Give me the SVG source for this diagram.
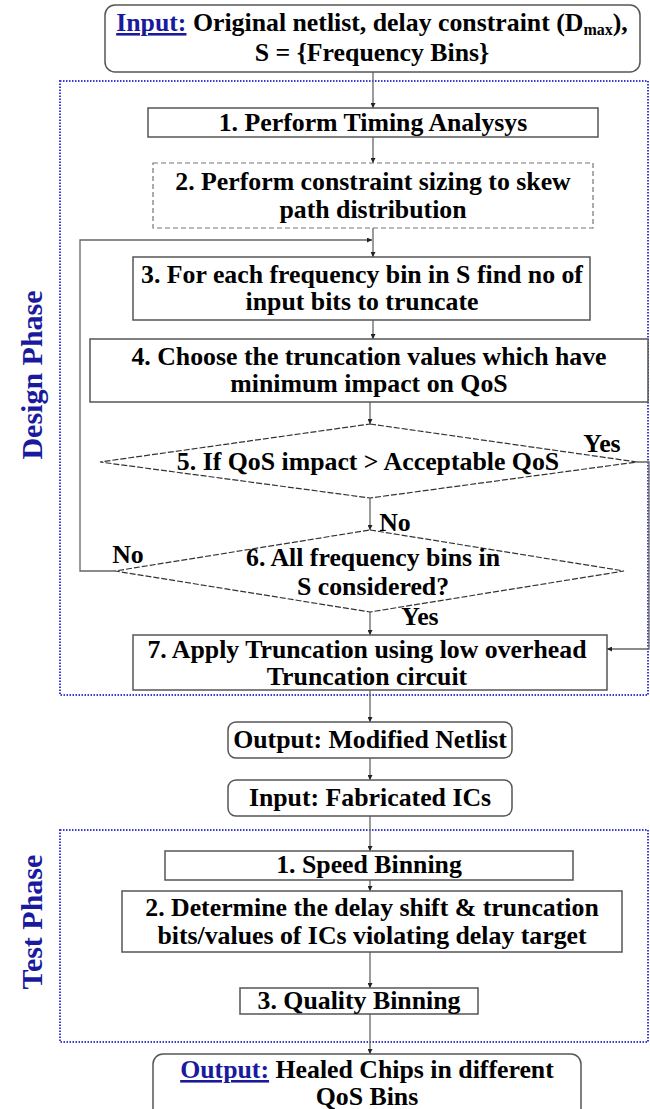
<svg xmlns="http://www.w3.org/2000/svg" width="650" height="1109" viewBox="0 0 650 1109">
<defs>
<style>
.t{font-weight:bold;font-size:25.8px;fill:#000;text-anchor:middle}
.blue{fill:#1a1a9e}
.u{text-decoration:underline}
.box{fill:#fff;stroke:#555;stroke-width:1.5}
.dbox{fill:#fff;stroke:#777;stroke-width:1.2;stroke-dasharray:5,3}
.dia{fill:#fff;stroke:#333;stroke-width:1.2;stroke-dasharray:6,2}
.phase{fill:none;stroke:#3b3bd6;stroke-width:2;stroke-dasharray:1.5,1.5}
.c{fill:none;stroke:#666;stroke-width:1.3}
.side{font-weight:bold;font-size:30px;fill:#1a1a9e;text-anchor:middle}
</style>
<marker id="ah" viewBox="0 0 10 10" refX="10" refY="5" markerWidth="5" markerHeight="5" orient="auto" markerUnits="userSpaceOnUse">
<path d="M0,0 L10,5 L0,10 z" fill="#222"/>
</marker>
</defs>
<rect width="650" height="1109" fill="#fff"/>
<g font-family="'Liberation Serif', 'Times New Roman', serif">

<g id="phases">
<rect class="phase" x="60" y="81" width="588" height="614"/>
<rect class="phase" x="60" y="830" width="588" height="212"/>
<text class="side" transform="translate(42,375) rotate(-90)">Design Phase</text>
<text class="side" transform="translate(42,922) rotate(-90)">Test Phase</text>
</g>

<g id="connectors">
<line class="c" x1="373" y1="72" x2="373" y2="108" marker-end="url(#ah)"/>
<line class="c" x1="373" y1="137" x2="373" y2="163" marker-end="url(#ah)"/>
<line class="c" x1="373" y1="228" x2="373" y2="257" marker-end="url(#ah)"/>
<polyline class="c" points="115,571 80,571 80,240 372,240" marker-end="url(#ah)"/>
<line class="c" x1="373" y1="320" x2="373" y2="339" marker-end="url(#ah)"/>
<line class="c" x1="370" y1="402" x2="370" y2="424" marker-end="url(#ah)"/>
<line class="c" x1="370" y1="498" x2="370" y2="530" marker-end="url(#ah)"/>
<polyline class="c" points="637,462 649,462 649,649 607,649" marker-end="url(#ah)"/>
<line class="c" x1="370" y1="612" x2="370" y2="635" marker-end="url(#ah)"/>
<line class="c" x1="370" y1="690" x2="370" y2="722" marker-end="url(#ah)"/>
<line class="c" x1="370" y1="758" x2="370" y2="780" marker-end="url(#ah)"/>
<line class="c" x1="370" y1="816" x2="370" y2="851" marker-end="url(#ah)"/>
<line class="c" x1="370" y1="880" x2="370" y2="891" marker-end="url(#ah)"/>
<line class="c" x1="370" y1="952" x2="370" y2="988" marker-end="url(#ah)"/>
<line class="c" x1="370" y1="1014" x2="370" y2="1054" marker-end="url(#ah)"/>
</g>

<g id="input">
<rect class="box" x="105" y="5" width="535" height="67" rx="10"/>
<text class="t" x="372" y="31"><tspan class="blue u">Input:</tspan> Original netlist, delay constraint (D<tspan font-size="16" dy="4">max</tspan><tspan dy="-4">),</tspan></text>
<text class="t" x="372" y="61">S = {Frequency Bins}</text>
</g>

<g id="d1">
<rect class="box" x="148" y="108" width="450" height="29"/>
<text class="t" x="373" y="131">1. Perform Timing Analysys</text>
</g>

<g id="d2">
<rect class="dbox" x="153" y="163" width="440" height="65"/>
<text class="t" x="373" y="190">2. Perform constraint sizing to skew</text>
<text class="t" x="373" y="218">path distribution</text>
</g>

<g id="d3">
<rect class="box" x="133" y="257" width="457" height="63"/>
<text class="t" x="362" y="283">3. For each frequency bin in  S find no of</text>
<text class="t" x="362" y="310">input bits to truncate</text>
</g>

<g id="d4">
<rect class="box" x="90" y="339" width="558" height="63"/>
<text class="t" x="369" y="365">4. Choose the truncation values which have</text>
<text class="t" x="369" y="392">minimum impact on QoS</text>
</g>

<g id="d5">
<polygon class="dia" points="370,424 637,462 370,498 100,462"/>
<text class="t" x="368" y="470">5. If QoS impact &gt; Acceptable QoS</text>
<text class="t" x="602" y="452">Yes</text>
</g>

<g id="d6">
<polygon class="dia" points="370,530 624,571 370,612 115,571"/>
<text class="t" x="373" y="566">6. All  frequency bins in</text>
<text class="t" x="373" y="595">S considered?</text>
<text class="t" x="395" y="531">No</text>
<text class="t" x="128" y="563">No</text>
<text class="t" x="420" y="625">Yes</text>
</g>

<g id="d7">
<rect class="box" x="133" y="635" width="474" height="55"/>
<text class="t" x="367" y="658">7. Apply Truncation using low overhead</text>
<text class="t" x="367" y="685">Truncation circuit</text>
</g>

<g id="out1">
<rect class="box" x="228" y="722" width="284" height="36" rx="8"/>
<text class="t" x="370" y="748">Output: Modified Netlist</text>
</g>

<g id="in2">
<rect class="box" x="228" y="780" width="284" height="36" rx="8"/>
<text class="t" x="370" y="806">Input: Fabricated ICs</text>
</g>

<g id="t1">
<rect class="box" x="165" y="851" width="408" height="29"/>
<text class="t" x="369" y="873">1. Speed Binning</text>
</g>

<g id="t2">
<rect class="box" x="122" y="891" width="500" height="61"/>
<text class="t" x="372" y="916">2. Determine the delay shift &amp; truncation</text>
<text class="t" x="372" y="944">bits/values of ICs violating delay target</text>
</g>

<g id="t3">
<rect class="box" x="240" y="988" width="238" height="26"/>
<text class="t" x="359" y="1009">3. Quality Binning</text>
</g>

<g id="out2">
<rect class="box" x="153" y="1054" width="428" height="70" rx="10"/>
<text class="t" x="367" y="1078"><tspan class="blue u">Output:</tspan> Healed Chips in different</text>
<text class="t" x="367" y="1105">QoS Bins</text>
</g>
</g>
</svg>
